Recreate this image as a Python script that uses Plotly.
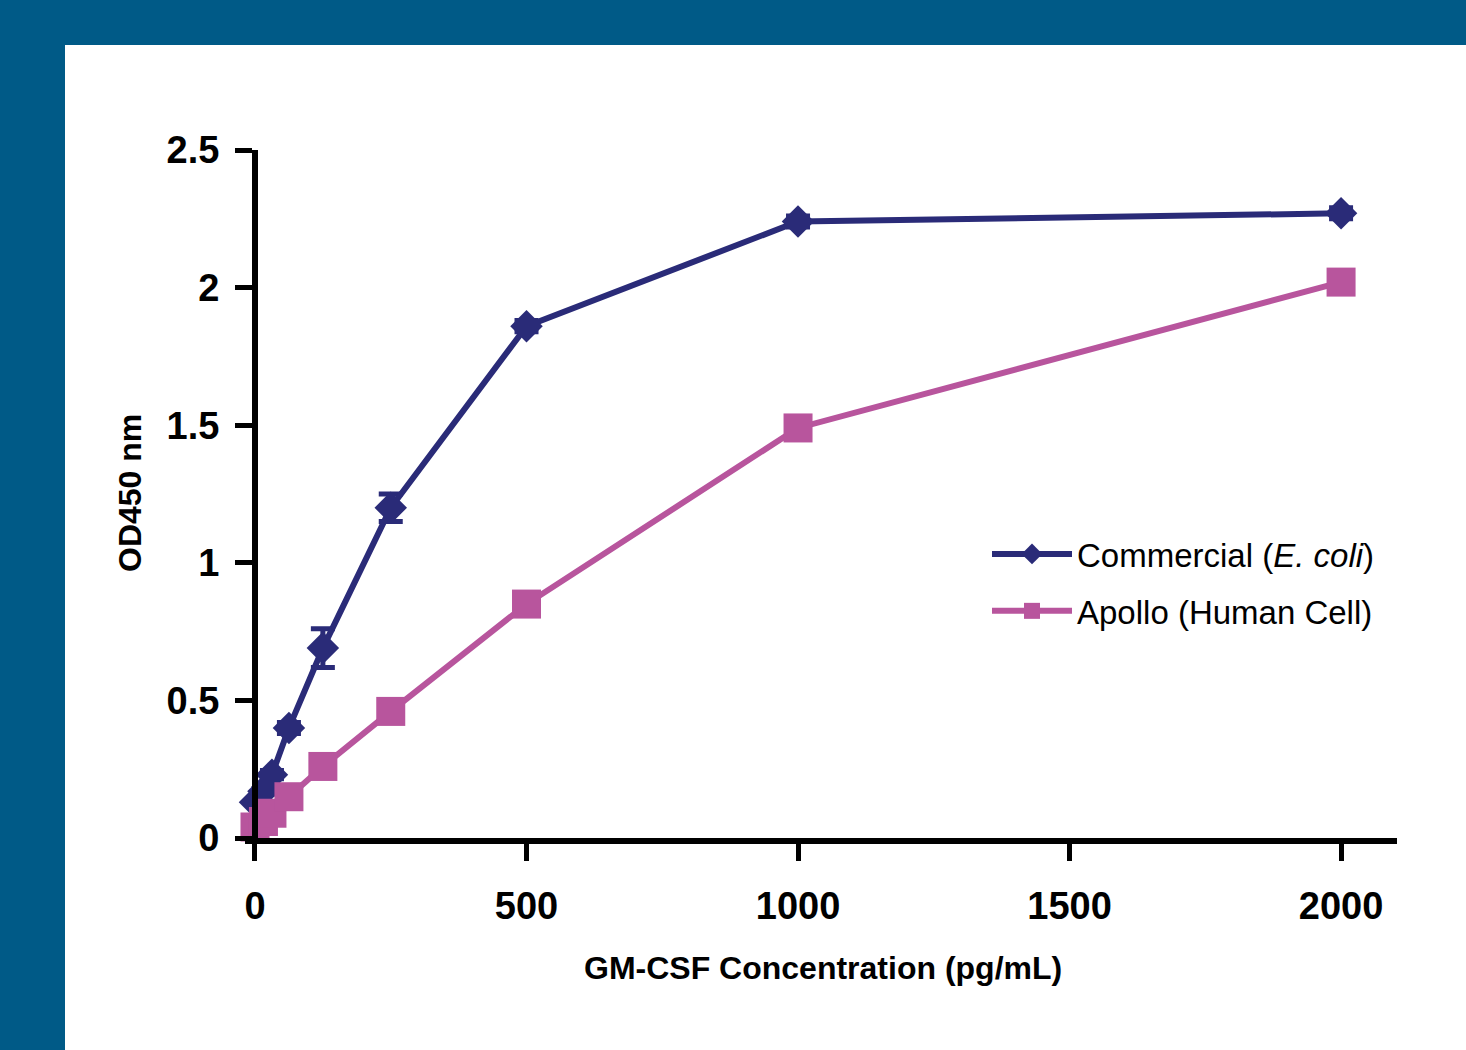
import plotly.graph_objects as go

# ---- data ----
concentration = [0, 15.6, 31.25, 62.5, 125, 250, 500, 1000, 2000]
commercial_od = [0.13, 0.17, 0.23, 0.40, 0.69, 1.20, 1.86, 2.24, 2.27]
commercial_err = [0.01, 0.01, 0.015, 0.02, 0.07, 0.05, 0.02, 0.02, 0.02]
apollo_od = [0.04, 0.06, 0.09, 0.15, 0.26, 0.46, 0.85, 1.49, 2.02]
x_ticks = [0, 500, 1000, 1500, 2000]
x_tick_labels = ["0", "500", "1000", "1500", "2000"]
y_ticks = [0, 0.5, 1, 1.5, 2, 2.5]
y_tick_labels = ["0", "0.5", "1", "1.5", "2", "2.5"]

W, H = 1466, 1050
ML, MR, MT, MB = 245, 69, 150, 212
PW, PH = W - ML - MR, H - MT - MB
XMIN, XMAX = -18.4, 2103
YMIN, YMAX = 0, 2.5

BLUE = "#2a2b78"
PINK = "#b8559d"
FRAME = "#005a87"
FONT = "Arial, Liberation Sans, sans-serif"


def px_x(p):
    return (p - ML) / PW


def px_y(p):
    return (H - MB - p) / PH


fig = go.Figure()
fig.add_trace(go.Scatter(
    x=concentration, y=commercial_od, mode="lines+markers",
    name="Commercial (<i>E. coli</i>)", legendgroup="a",
    line=dict(color=BLUE, width=6),
    marker=dict(symbol="diamond", size=25, color=BLUE),
    error_y=dict(type="data", array=commercial_err, color=BLUE, thickness=5, width=12),
    cliponaxis=False,
))
fig.add_trace(go.Scatter(
    x=concentration, y=apollo_od, mode="lines+markers",
    name="Apollo (Human Cell)", legendgroup="b",
    line=dict(color=PINK, width=6),
    marker=dict(symbol="square", size=29, color=PINK),
    cliponaxis=False,
))

fig.add_shape(type="rect", xref="paper", yref="paper",
              x0=px_x(65), x1=px_x(W + 5), y0=px_y(H + 5), y1=px_y(45),
              fillcolor="white", line=dict(width=0), layer="below")

fig.add_annotation(text="<b>GM-CSF Concentration (pg/mL)</b>", xref="paper", yref="paper",
                   x=px_x(823), y=px_y(968), xanchor="center", yanchor="middle", showarrow=False,
                   font=dict(family=FONT, size=32, color="black"))
fig.add_annotation(text="<b>OD450 nm</b>", xref="paper", yref="paper",
                   x=px_x(130), y=px_y(493), xanchor="center", yanchor="middle",
                   showarrow=False, textangle=-90,
                   font=dict(family=FONT, size=32, color="black"))

fig.update_layout(
    width=W, height=H,
    margin=dict(l=ML, r=MR, t=MT, b=MB),
    paper_bgcolor=FRAME, plot_bgcolor="white",
    font=dict(family=FONT, color="black"),
    showlegend=True,
    legend=dict(x=px_x(987), y=px_y(526), xanchor="left", yanchor="top",
                bgcolor="rgba(0,0,0,0)", font=dict(family=FONT, size=33, color="black"),
                itemwidth=80, tracegroupgap=11, traceorder="grouped"),
    xaxis=dict(range=[XMIN, XMAX], tickvals=x_ticks, ticktext=x_tick_labels,
               showgrid=False, zeroline=False, showline=True, linecolor="black", linewidth=6,
               ticks="outside", ticklen=17, tickwidth=5, tickcolor="black",
               tickfont=dict(family=FONT, size=38, color="black", weight="bold"),
               ticklabelstandoff=12),
    yaxis=dict(range=[YMIN, YMAX], tickvals=y_ticks, ticktext=y_tick_labels,
               anchor="free", position=(0 - XMIN) / (XMAX - XMIN),
               showgrid=False, zeroline=False, showline=True, linecolor="black", linewidth=6,
               ticks="outside", ticklen=17, tickwidth=5, tickcolor="black",
               tickfont=dict(family=FONT, size=38, color="black", weight="bold"),
               ticklabelstandoff=8),
)

fig.write_html("out.html")
